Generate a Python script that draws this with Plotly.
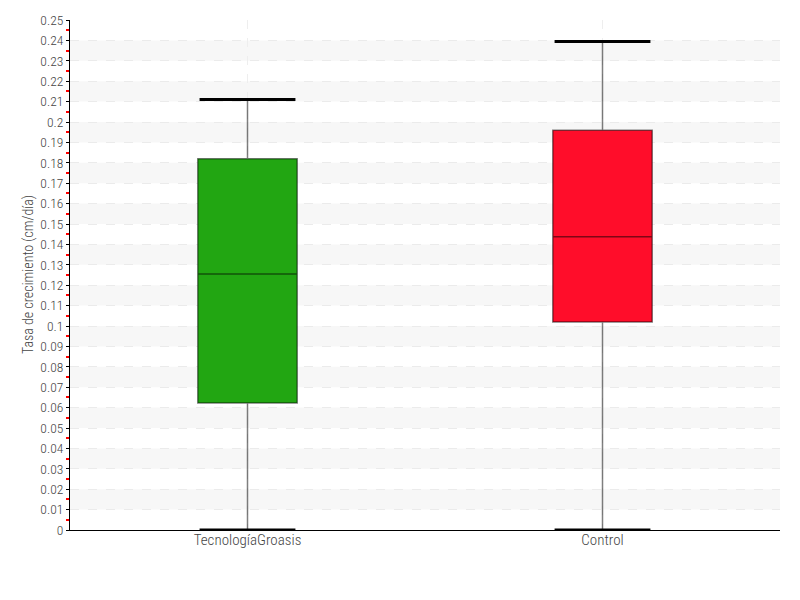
from plotly import graph_objects as go

# data
categories = ["TecnologíaGroasis", "Control"]
fill_colors = ["#22a612", "#ff0d2a"]
lower_fence = [0.0, 0.0]
q1 = [0.0623, 0.102]
median = [0.1255, 0.1437]
q3 = [0.182, 0.196]
upper_fence = [0.211, 0.2395]

FONT = "Roboto Condensed, sans-serif"
TEXT = "#444444"

fig = go.Figure()

for i, cat in enumerate(categories):
    fig.add_trace(
        go.Box(
            x=[cat],
            q1=[q1[i]],
            median=[median[i]],
            q3=[q3[i]],
            lowerfence=[lower_fence[i]],
            upperfence=[upper_fence[i]],
            fillcolor=fill_colors[i],
            line=dict(color="rgba(0,0,0,0.5)", width=1.5),
            width=0.28,
            whiskerwidth=0,
            showlegend=False,
            hoverinfo="skip",
        )
    )

# black whisker caps, drawn on top
for i, cat in enumerate(categories):
    for val in (lower_fence[i], upper_fence[i]):
        fig.add_shape(
            type="line", xref="x", yref="y",
            x0=i - 0.135, x1=i + 0.135, y0=val, y1=val,
            line=dict(color="black", width=3), layer="above",
        )

# alternating light bands behind the grid
for k in range(1, 25, 2):
    fig.add_shape(
        type="rect", xref="paper", yref="y",
        x0=0, x1=1, y0=k / 100, y1=(k + 1) / 100,
        fillcolor="#f7f7f7", line=dict(width=0), layer="below",
    )

# y title as annotation so it can sit close to the tick labels
fig.add_annotation(
    xref="paper", yref="paper", x=-0.059, y=0.5,
    text="Tasa de crecimiento (cm/día)", textangle=-90, showarrow=False,
    xanchor="center", yanchor="middle",
    font=dict(family=FONT, size=14, color=TEXT, weight=300),
)

# page body adds 8px, so margins are trimmed to land the plot at the reference pixels
fig.update_layout(
    width=800,
    height=600,
    margin=dict(l=62, r=28, t=12, b=78),
    plot_bgcolor="white",
    paper_bgcolor="white",
    boxmode="overlay",
    font=dict(family=FONT, size=14, color=TEXT, weight=300),
)

fig.update_xaxes(
    type="category",
    range=[-0.5, 1.5],
    automargin=False,
    showline=True, linecolor="black", linewidth=1,
    showgrid=True, gridcolor="#eeeeee", griddash="dash",
    ticks="", ticklabelstandoff=-4,
    tickfont=dict(size=15, color=TEXT, weight=300),
)

fig.update_yaxes(
    range=[0, 0.25],
    dtick=0.01,
    tick0=0,
    automargin=False,
    showline=True, linecolor="black", linewidth=1,
    ticks="outside", ticklen=3, tickcolor="black",
    showgrid=True, gridcolor="#ebebeb", griddash="dash",
    zeroline=False,
    minor=dict(dtick=0.005, ticks="outside", ticklen=3, tickwidth=1.5,
               tickcolor="red", showgrid=False),
    tickfont=dict(size=13.5, color=TEXT, weight=300),
)

fig.write_html("out.html")
